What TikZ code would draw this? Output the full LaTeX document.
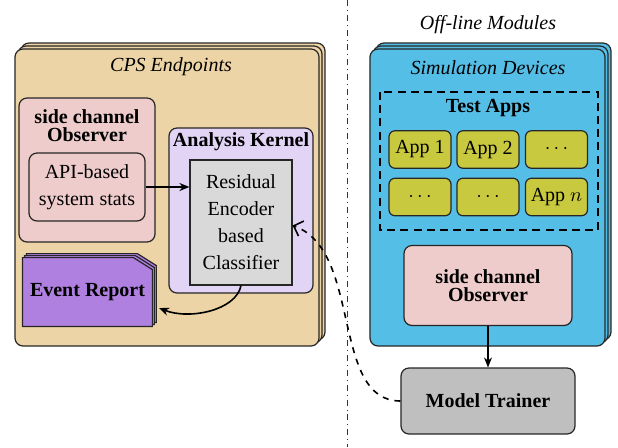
\documentclass[tikz,border=0pt]{standalone}
\usepackage{fontspec}
\setmainfont{Liberation Serif}
\usetikzlibrary{shadows,arrows.meta}
\definecolor{tanc}{HTML}{EDD4A6}
\definecolor{pinkc}{HTML}{EDCCCB}
\definecolor{lavc}{HTML}{E1D4F4}
\definecolor{grayk}{HTML}{D9D9D9}
\definecolor{purpc}{HTML}{AF80E0}
\definecolor{bluec}{HTML}{55BEE7}
\definecolor{olivec}{HTML}{C9C93F}
\definecolor{mtgray}{HTML}{BFBFBF}
\definecolor{edgec}{HTML}{262626}
\begin{document}
\begin{tikzpicture}[x=0.5pt,y=-0.5pt,
  box/.style={draw=edgec, line width=0.6pt, rounded corners=4pt, inner sep=0pt},
  stackbox/.style={box, double copy shadow={shadow xshift=1.5pt, shadow yshift=1.5pt}},
  titlebf/.style={font=\bfseries\fontsize{10}{9}\selectfont, align=center},
  plain/.style={font=\fontsize{10}{13.5}\selectfont, align=center},
  appbox/.style={box, rounded corners=3pt, fill=olivec, minimum width=31pt, minimum height=18.75pt},
  arr/.style={-{Stealth[length=5pt,width=4pt]}, line width=0.8pt, draw=black},
]
\useasboundingbox (0,0) rectangle (618,447);
% separator
\draw[dash dot, line width=0.5pt, draw=black!80] (348,0) -- (348,447);
\node[font=\itshape] (offl) at (488,25) {Off-line Modules};

% ---------- left: CPS endpoints
\node[stackbox, fill=tanc, minimum width=152pt, minimum height=148.5pt] (cps) at (167,197.5) {};
\node[font=\itshape] (cpst) at (171,67) {CPS Endpoints};

\node[box, fill=pinkc, minimum width=68pt, minimum height=72pt] (obsl) at (87,170) {};
\node[titlebf] (obslt) at (87,126) {side channel\\Observer};
\node[box, fill=pinkc, minimum width=58pt, minimum height=34pt, plain] (api) at (87,187) {API-based\\system stats};

\node[box, fill=lavc, minimum width=72pt, minimum height=82.5pt] (ak) at (241,210.5) {};
\node[titlebf] (akt) at (241,142) {Analysis Kernel};
\node[draw=edgec, line width=0.6pt, fill=grayk, minimum width=51pt, minimum height=62.5pt, inner sep=0pt, plain] (cls) at (241,222.5) {Residual\\Encoder\\based\\Classifier};

\draw[arr] (api.east) -- (api.east -| cls.west);

% event report
\node[minimum width=64.5pt, minimum height=34pt, inner sep=0pt] (ev) at (87.5,292) {};
\foreach \s in {2,1,0}{
  \draw[draw=edgec, line width=0.6pt, fill=purpc]
    ([shift={(\s pt,\s pt)}]ev.south west) -- ([shift={(\s pt,\s pt)}]ev.north west)
    -- ([shift={(\s pt-9.5pt,\s pt)}]ev.north east)
    -- ([shift={(\s pt,\s pt-6pt)}]ev.north east) -- ([shift={(\s pt,\s pt)}]ev.south east) -- cycle;
}
\node[font=\bfseries] (evt) at (ev.center) {Event Report};
\coordinate (evr) at (159,308);
\draw[arr] (cls.south) .. controls +(-5,25) and +(30,12) .. (evr);

% ---------- right: simulation devices
\node[stackbox, fill=bluec, minimum width=117.5pt, minimum height=148.5pt] (sim) at (487.5,197.5) {};
\node[font=\itshape] (simt) at (488,68) {Simulation Devices};

\draw[dashed, dash pattern=on 4pt off 2.6pt, line width=0.75pt] (380,92) rectangle (598,230);
\node[font=\bfseries] (tat) at (488,108) {Test Apps};

\node[appbox] (a1) at (420,149.5) {App 1};
\node[appbox] (a2) at (488,149.5) {App 2};
\node[appbox] (a3) at (556.5,149.5) {$\cdots$};
\node[appbox] (a4) at (420,197) {$\cdots$};
\node[appbox] (a5) at (488,197) {$\cdots$};
\node[appbox] (a6) at (556.5,197) {App $n$};

\node[box, fill=pinkc, minimum width=84pt, minimum height=40pt, titlebf] (obsr) at (488,285.5) {side channel\\Observer};

\node[box, fill=mtgray, minimum width=87pt, minimum height=33pt, font=\bfseries] (mt) at (488,401) {Model Trainer};

\draw[arr] (obsr.south) -- (mt.north);
\draw[dashed, line width=0.8pt, -{Straight Barb[length=4pt,width=8pt]}] (mt.west) .. controls +(-70,0) and +(70,25) .. ([yshift=-1.5pt]cls.east);
\end{tikzpicture}
\end{document}
